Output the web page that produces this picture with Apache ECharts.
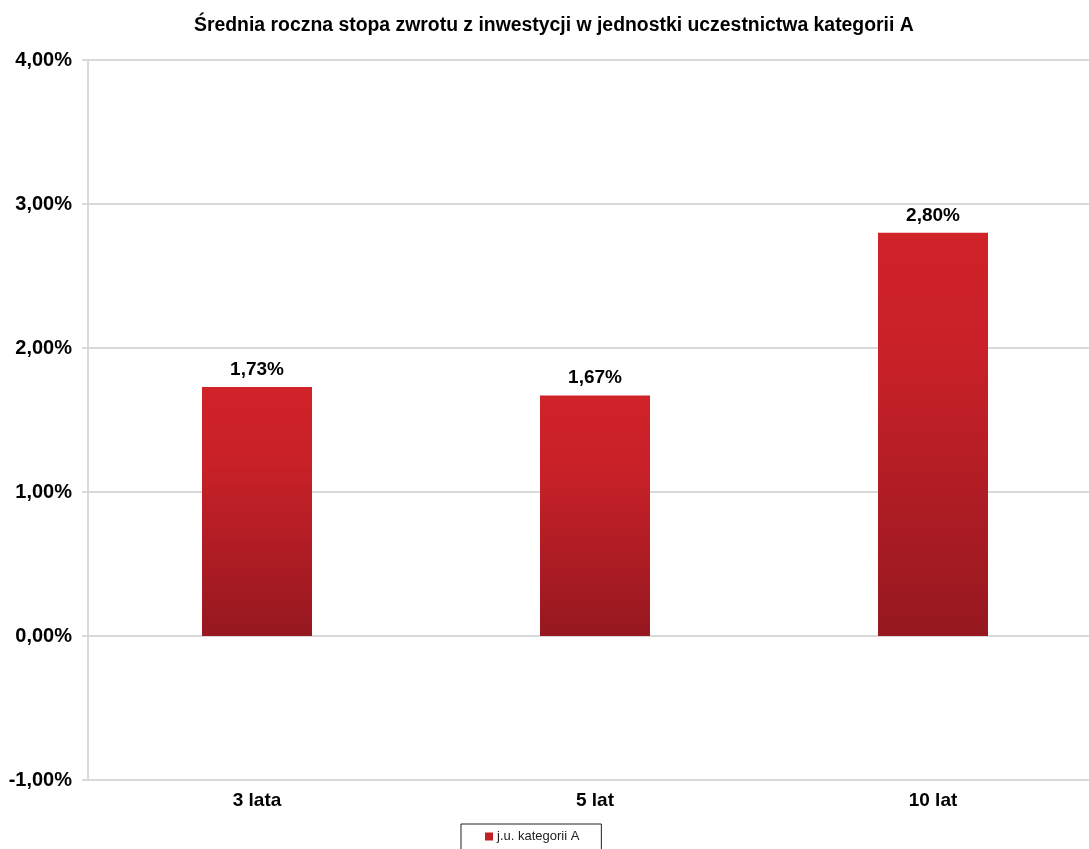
<!DOCTYPE html>
<html><head><meta charset="utf-8">
<script src="https://cdn.jsdelivr.net/npm/echarts@6/dist/echarts.min.js"></script>
<style>html,body{margin:0;padding:0;background:#fff}#c{width:1089px;height:849px}</style>
</head><body><div id="c"></div>
<script>
const titleText = 'Średnia roczna stopa zwrotu z inwestycji w jednostki uczestnictwa kategorii A';
const categories = ['3 lata', '5 lat', '10 lat'];
const seriesName = 'j.u. kategorii A';
const values = [1.73, 1.67, 2.80];
const yMin = -1, yMax = 4, yStep = 1;

const fmt = v => v.toFixed(2).replace('.', ',') + '%';
const chart = echarts.init(document.getElementById('c'));
chart.setOption({
  animation: false,
  backgroundColor: '#fff',
  textStyle: { fontFamily: 'Liberation Sans, Arial, sans-serif' },
  title: {
    text: titleText, left: 189, top: 11,
    textStyle: { fontSize: 19.4, fontWeight: 'bold', color: '#000', fontFamily: 'Liberation Sans, Arial' }
  },
  legend: {
    bottom: -20, left: 461,
    itemWidth: 8, itemHeight: 8, itemGap: 4,
    icon: 'rect',
    borderColor: '#222', borderWidth: 1, padding: [6, 22, 26, 24],
    textStyle: { fontSize: 13, color: '#222', padding: [0, 0, 0, -1] },
    data: [{ name: seriesName, itemStyle: { color: '#c21f27' } }]
  },
  grid: { left: 88, top: 60, height: 720, width: 1014, outerBoundsMode: 'none', containLabel: false },
  xAxis: {
    type: 'category', data: categories,
    axisLine: { show: false }, axisTick: { show: false },
    axisLabel: { fontSize: 19, fontWeight: 'bold', color: '#000', margin: 11 }
  },
  yAxis: {
    type: 'value', min: yMin, max: yMax, interval: yStep,
    axisLine: { show: true, lineStyle: { color: '#d9d9d9', width: 2 } },
    axisTick: { show: true, length: 6, lineStyle: { color: '#d9d9d9', width: 2 } },
    splitLine: { lineStyle: { color: '#d9d9d9', width: 2 } },
    axisLabel: { fontSize: 20, fontWeight: 'bold', color: '#000', margin: 16, formatter: v => fmt(v) }
  },
  series: [{
    name: seriesName, type: 'bar', data: values, barWidth: 110,
    itemStyle: {
      color: new echarts.graphic.LinearGradient(0, 0, 0, 1, [
        { offset: 0, color: '#d02229' },
        { offset: 0.3, color: '#c92128' },
        { offset: 1, color: '#961820' }
      ])
    },
    label: { show: true, position: 'top', distance: 8, fontSize: 19, fontWeight: 'bold', color: '#000', formatter: p => fmt(p.value) }
  }]
});
</script></body></html>
